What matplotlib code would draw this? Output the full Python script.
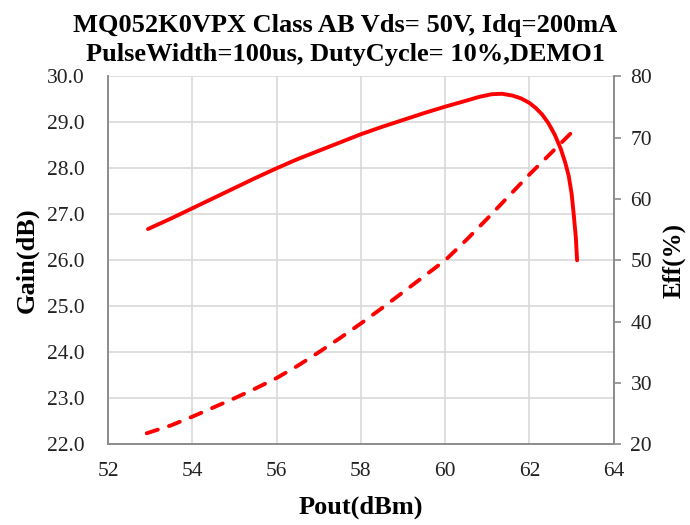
import matplotlib
matplotlib.use("Agg")
import matplotlib.pyplot as plt

# gain curve
pout_gain = [52.95, 53.5, 54.0, 54.5, 55.0, 55.5, 56.0, 56.5, 57.0, 57.5, 58.0,
             58.5, 59.0, 59.5, 60.0, 60.5, 60.8, 61.1, 61.35, 61.6, 61.8, 62.0,
             62.15, 62.3, 62.45, 62.6, 62.74, 62.85, 62.93, 63.0, 63.05, 63.1, 63.13]
gain_db = [26.68, 26.91, 27.13, 27.35, 27.57, 27.79, 28.00, 28.20, 28.38, 28.56, 28.74,
           28.90, 29.05, 29.20, 29.34, 29.47, 29.55, 29.61, 29.62, 29.58, 29.52, 29.42,
           29.31, 29.17, 28.98, 28.73, 28.43, 28.12, 27.84, 27.45, 27.00, 26.50, 26.00]

# drain efficiency curve
pout_eff = [52.92, 53.5, 54.0, 54.5, 55.0, 55.5, 56.0, 56.5, 57.0, 57.5, 58.0,
            58.5, 59.0, 59.5, 60.0, 60.5, 61.0, 61.5, 62.0, 62.5, 62.98]
eff_pct = [21.8, 23.1, 24.5, 26.0, 27.5, 29.1, 30.8, 32.8, 35.0, 37.3, 39.7,
           42.2, 44.8, 47.4, 50.0, 53.3, 56.8, 60.4, 64.0, 67.4, 70.7]

x_ticks = [52, 54, 56, 58, 60, 62, 64]
gain_ticks = [22, 23, 24, 25, 26, 27, 28, 29, 30]
eff_ticks = [20, 30, 40, 50, 60, 70, 80]

RED = "#ff0000"
GRID = "#d9d9d9"
SPINE = "#8c8c8c"
plt.rcParams["font.family"] = ["Liberation Serif", "DejaVu Serif"]

fig = plt.figure(figsize=(6.9, 5.25), dpi=100)
ax = fig.add_axes([0.1565, 0.1537, 0.733, 0.701])
ax2 = ax.twinx()

ax.plot(pout_gain, gain_db, color=RED, lw=2.8, solid_capstyle="round",
        solid_joinstyle="round", zorder=3)
ax2.plot(pout_eff, eff_pct, color=RED, lw=2.8, dashes=(3.0, 3.0),
         dash_capstyle="round", zorder=3)

ax.set_xlim(52, 64)
ax.set_ylim(22, 30)
ax2.set_ylim(20, 80)
ax.set_xticks(x_ticks)
ax.set_yticks(gain_ticks)
ax.set_yticklabels([f"{v:.1f}" for v in gain_ticks])
ax2.set_yticks(eff_ticks)

ax.grid(True, color=GRID, lw=1.2)
ax.set_axisbelow(True)

for a in (ax, ax2):
    a.spines["top"].set_visible(False)
    for s in ("left", "bottom", "right"):
        a.spines[s].set_color(SPINE)
        a.spines[s].set_linewidth(1.2)

ax.tick_params(axis="both", length=0, labelsize=15.5, colors="#222222")
ax.tick_params(axis="y", pad=17)
ax.tick_params(axis="x", pad=13)
ax2.tick_params(axis="y", length=5, width=1.2, color=SPINE, labelsize=15.5,
                labelcolor="#222222", pad=7)

ax.set_xlabel("Pout(dBm)", fontsize=19, fontweight="bold", labelpad=10)
ax.set_ylabel("Gain(dB)", fontsize=19, fontweight="bold", labelpad=6)
ax2.set_ylabel("Eff(%)", fontsize=18, fontweight="bold", labelpad=7)

fig.text(0.5, 0.951, "MQ052K0VPX Class AB Vds= 50V, Idq=200mA", ha="center",
         va="center", fontsize=19, fontweight="bold")
fig.text(0.5, 0.896, "PulseWidth=100us, DutyCycle= 10%,DEMO1", ha="center",
         va="center", fontsize=19, fontweight="bold")

fig.savefig("out.png", dpi=100)
